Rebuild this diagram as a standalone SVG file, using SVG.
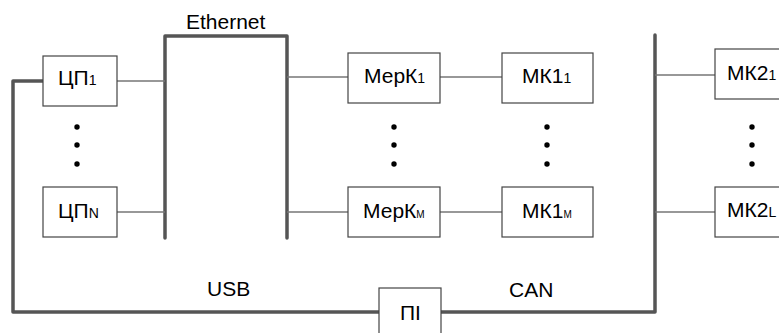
<svg xmlns="http://www.w3.org/2000/svg" width="779" height="333" viewBox="0 0 779 333">
<style>
.box{fill:#fff;stroke:#444;stroke-width:1.2}
.thin{fill:none;stroke:#777;stroke-width:1.3}
.bus{fill:none;stroke:#555;stroke-width:3.5;stroke-linecap:round;stroke-linejoin:round}
text{font-family:"Liberation Sans",Arial,sans-serif;font-size:21px;fill:#000}
.sub{font-size:14px}
.subm{font-size:10px}
.dot{fill:#000}
</style>
<rect width="779" height="333" fill="#fff"/>
<g id="connectors">
<path class="bus" d="M165,238 V36 H287 V238"/>
<path class="bus" d="M43,81 H13 V312 H379"/>
<path class="bus" d="M441,312 H655 V35"/>
<path class="thin" d="M117,81 H165 M117,212 H165"/>
<path class="thin" d="M287,77 H348 M440,77 H502"/>
<path class="thin" d="M287,212 H348 M440,212 H502"/>
<path class="thin" d="M655,75 H715 M655,212 H715"/>
</g>
<g id="labels">
<text x="186" y="29">Ethernet</text>
<text x="207" y="296">USB</text>
<text x="509" y="297">CAN</text>
</g>
<g id="cp1"><rect class="box" x="43" y="56" width="74" height="50"/><text x="58" y="85">ЦП<tspan class="sub">1</tspan></text></g>
<g id="cpN"><rect class="box" x="43" y="187" width="74" height="50"/><text x="58" y="218">ЦП<tspan class="sub">N</tspan></text></g>
<g id="merk1"><rect class="box" x="348" y="53" width="92" height="50"/><text x="364" y="83">МерК<tspan class="sub">1</tspan></text></g>
<g id="merkM"><rect class="box" x="348" y="187" width="92" height="50"/><text x="363" y="218">МерК<tspan class="subm">М</tspan></text></g>
<g id="mk1_1"><rect class="box" x="502" y="53" width="91" height="50"/><text x="522" y="83">МК1<tspan class="sub">1</tspan></text></g>
<g id="mk1_M"><rect class="box" x="502" y="187" width="91" height="50"/><text x="522" y="218">МК1<tspan class="subm">М</tspan></text></g>
<g id="mk2_1"><rect class="box" x="715" y="49" width="80" height="50"/><text x="727" y="80">МК2<tspan class="sub">1</tspan></text></g>
<g id="mk2_L"><rect class="box" x="715" y="187" width="80" height="50"/><text x="727" y="217">МК2<tspan class="sub">L</tspan></text></g>
<g id="pi"><rect class="box" x="379" y="288" width="62" height="60"/><text x="400" y="320">ПІ</text></g>
<g id="dots">
<circle class="dot" cx="77" cy="127" r="2.7"/><circle class="dot" cx="77" cy="145" r="2.7"/><circle class="dot" cx="77" cy="164" r="2.7"/>
<circle class="dot" cx="394" cy="127" r="2.7"/><circle class="dot" cx="394" cy="145" r="2.7"/><circle class="dot" cx="394" cy="164" r="2.7"/>
<circle class="dot" cx="547" cy="127" r="2.7"/><circle class="dot" cx="547" cy="145" r="2.7"/><circle class="dot" cx="547" cy="164" r="2.7"/>
<circle class="dot" cx="752" cy="127" r="2.7"/><circle class="dot" cx="752" cy="145" r="2.7"/><circle class="dot" cx="752" cy="164" r="2.7"/>
</g>
</svg>
